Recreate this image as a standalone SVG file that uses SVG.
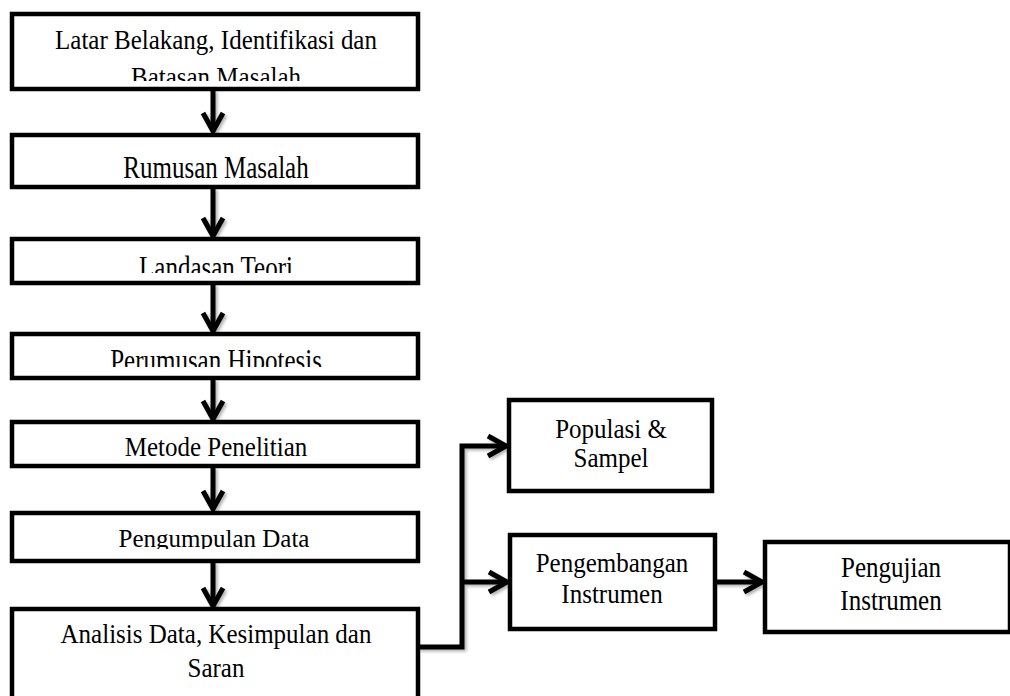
<svg xmlns="http://www.w3.org/2000/svg" width="1010" height="696" viewBox="0 0 1010 696">
  <style>
    .box { fill: #ffffff; stroke: #000000; stroke-width: 4.5; }
    .lbl { font-family: "Liberation Serif", "Times New Roman", serif; font-size: 25px; fill: #000000; text-anchor: middle; }
    .con { fill: none; stroke: #000000; stroke-width: 5; stroke-linejoin: miter; }
  </style>
  <defs>
    <marker id="chev" viewBox="-25 -15 30 30" markerWidth="30" markerHeight="30" refX="0" refY="0" orient="auto" markerUnits="userSpaceOnUse" overflow="visible">
      <path d="M-18,-10 L0,0 L-18,10" fill="none" stroke="#000000" stroke-width="5" stroke-linejoin="miter"/>
    </marker>
    <filter id="shadow" x="-20%" y="-20%" width="140%" height="140%">
      <feDropShadow dx="2" dy="2" stdDeviation="1.5" flood-color="#000000" flood-opacity="0.3"/>
    </filter>
    <clipPath id="c1" clipPathUnits="userSpaceOnUse"><rect x="14" y="16" width="402" height="65"/></clipPath>
    <clipPath id="c3" clipPathUnits="userSpaceOnUse"><rect x="14" y="241" width="402" height="32"/></clipPath>
    <clipPath id="c4" clipPathUnits="userSpaceOnUse"><rect x="14" y="336" width="402" height="31"/></clipPath>
    <clipPath id="c6" clipPathUnits="userSpaceOnUse"><rect x="14" y="515" width="402" height="34"/></clipPath>
  </defs>

  <g id="connectors" filter="url(#shadow)">
    <path class="con" d="M213,90 V131" marker-end="url(#chev)"/>
    <path class="con" d="M213,188 V236" marker-end="url(#chev)"/>
    <path class="con" d="M213,284 V331" marker-end="url(#chev)"/>
    <path class="con" d="M213,379 V419" marker-end="url(#chev)"/>
    <path class="con" d="M213,467 V509" marker-end="url(#chev)"/>
    <path class="con" d="M213,562 V606" marker-end="url(#chev)"/>
    <path class="con" d="M418,647 H462 V446 H506" marker-end="url(#chev)"/>
    <path class="con" d="M462,582 H507" marker-end="url(#chev)"/>
    <path class="con" d="M715,582 H762" marker-end="url(#chev)"/>
  </g>

  <g id="n1">
    <rect class="box" x="12" y="14" width="406" height="75"/>
    <g clip-path="url(#c1)">
      <text class="lbl" transform="translate(216,49) scale(1,1.1)">Latar Belakang, Identifikasi dan</text>
      <text class="lbl" transform="translate(216,86) scale(1,1.1)">Batasan Masalah</text>
    </g>
  </g>
  <g id="n2">
    <rect class="box" x="12" y="135" width="406" height="52"/>
    <text class="lbl" transform="translate(216,178) scale(1,1.3)">Rumusan Masalah</text>
  </g>
  <g id="n3">
    <rect class="box" x="12" y="239" width="406" height="44"/>
    <g clip-path="url(#c3)">
      <text class="lbl" transform="translate(216,278) scale(1,1.3)">Landasan Teori</text>
    </g>
  </g>
  <g id="n4">
    <rect class="box" x="12" y="334" width="406" height="44"/>
    <g clip-path="url(#c4)">
      <text class="lbl" transform="translate(216,371) scale(1,1.3)">Perumusan Hipotesis</text>
    </g>
  </g>
  <g id="n5">
    <rect class="box" x="12" y="422" width="406" height="44"/>
    <text class="lbl" transform="translate(216,456) scale(1,1.1)">Metode Penelitian</text>
  </g>
  <g id="n6">
    <rect class="box" x="12" y="513" width="406" height="48"/>
    <g clip-path="url(#c6)">
      <text class="lbl" transform="translate(214,547) scale(1,1.0)">Pengumpulan Data</text>
    </g>
  </g>
  <g id="n7">
    <rect class="box" x="12" y="609" width="406" height="91"/>
    <text class="lbl" transform="translate(216,643) scale(1,1.1)">Analisis Data, Kesimpulan dan</text>
    <text class="lbl" transform="translate(216,677) scale(1,1.1)">Saran</text>
  </g>
  <g id="n8">
    <rect class="box" x="509" y="400" width="203" height="91"/>
    <text class="lbl" transform="translate(611,438) scale(1,1.1)">Populasi &amp;</text>
    <text class="lbl" transform="translate(611,467) scale(1,1.1)">Sampel</text>
  </g>
  <g id="n9">
    <rect class="box" x="510" y="535" width="205" height="94"/>
    <text class="lbl" transform="translate(612,572) scale(1,1.1)">Pengembangan</text>
    <text class="lbl" transform="translate(612,603) scale(1,1.1)">Instrumen</text>
  </g>
  <g id="n10">
    <rect class="box" x="765" y="542" width="245" height="90"/>
    <text class="lbl" transform="translate(891,577) scale(1,1.2)">Pengujian</text>
    <text class="lbl" transform="translate(891,610) scale(1,1.2)">Instrumen</text>
  </g>
</svg>
